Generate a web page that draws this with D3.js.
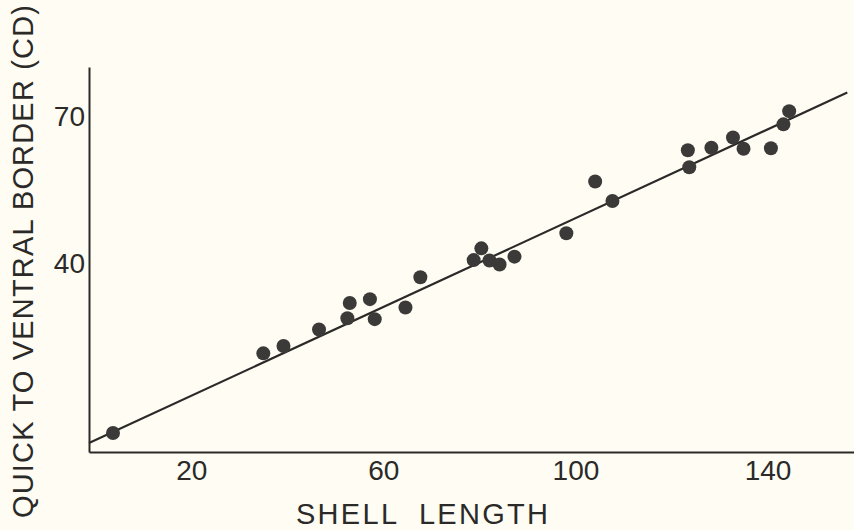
<!DOCTYPE html>
<html>
<head>
<meta charset="utf-8">
<script src="https://cdn.jsdelivr.net/npm/d3@7"></script>
<style>
    body { margin: 0; background: #fffdf3; }
    svg { display: block; }
    .axis path { stroke: #2b2a28; stroke-width: 2; }
    .axis text { font-family: "Liberation Sans", sans-serif; font-size: 28px; fill: #2b2a28; }
    .label { font-family: "Liberation Sans", sans-serif; font-size: 29px; fill: #2b2a28; }
    .dot { fill: #3c3a39; }
    .fit { fill: none; stroke: #2b2a28; stroke-width: 2.2; }
</style>
</head>
<body>
<svg id="chart"></svg>
<script>
var w = 854,
    h = 530;

var margin = {
    top: 67,
    right: 0,
    bottom: 78,
    left: 89
},
    width = w - margin.left - margin.right,
    height = h - margin.top - margin.bottom;

// shell length vs quick to ventral border
var shellLength = [3.7, 35.0, 39.2, 46.6, 52.5, 53.0, 57.2, 58.2, 64.6, 67.7,
                   78.8, 80.4, 82.1, 84.2, 87.3, 98.1, 104.1, 107.7, 123.4, 123.7,
                   128.3, 132.8, 135.0, 140.7, 143.3, 144.5];
var quickToBorder = [5.3, 21.6, 23.1, 26.5, 28.8, 31.9, 32.7, 28.6, 31.0, 37.2,
                     40.7, 43.1, 40.6, 39.8, 41.4, 46.2, 56.8, 52.8, 63.2, 59.7,
                     63.7, 65.8, 63.5, 63.6, 68.5, 71.2];

// fitted line end points
var fitX = [-1.3, 156.6];
var fitY = [3.24, 75.0];

var xTicks = [20, 60, 100, 140];
var yTicks = [40, 70];

var x = d3.scaleLinear()
    .domain([-1.3, 158])
    .range([0, width]);

var y = d3.scaleLinear()
    .domain([1.4, 80.24])
    .range([height, 0]);

var svg = d3.select("#chart")
    .attr("width", w)
    .attr("height", h);

var g = svg.append("g")
    .attr("transform", "translate(" + margin.left + "," + margin.top + ")");

// axes
g.append("g")
    .attr("class", "axis x-axis")
    .attr("transform", "translate(0," + height + ")")
    .call(d3.axisBottom(x).tickValues(xTicks).tickSize(0).tickPadding(8));

g.append("g")
    .attr("class", "axis y-axis")
    .call(d3.axisLeft(y).tickValues(yTicks).tickSize(0).tickPadding(4));

// fitted line
var fitData = fitX.map(function(d, i) { return { x: d, y: fitY[i] }; });

g.append("path")
    .datum(fitData)
    .attr("class", "fit")
    .attr("d", d3.line()
        .x(function(d) { return x(d.x); })
        .y(function(d) { return y(d.y); }));

// points
var pts = shellLength.map(function(d, i) { return { x: d, y: quickToBorder[i] }; });

g.selectAll(".dot")
    .data(pts)
    .enter()
    .append("circle")
    .attr("class", "dot")
    .attr("cx", function(d) { return x(d.x); })
    .attr("cy", function(d) { return y(d.y); })
    .attr("r", 7);

// axis titles
svg.append("text")
    .attr("class", "label")
    .attr("x", 296)
    .attr("y", 524)
    .attr("textLength", 252)
    .attr("lengthAdjust", "spacing")
    .attr("xml:space", "preserve")
    .style("white-space", "pre")
    .text("SHELL  LENGTH");

svg.append("text")
    .attr("class", "label")
    .attr("transform", "translate(33,518) rotate(-90)")
    .attr("textLength", 513)
    .attr("lengthAdjust", "spacing")
    .text("QUICK TO VENTRAL BORDER (CD)");
</script>
</body>
</html>
